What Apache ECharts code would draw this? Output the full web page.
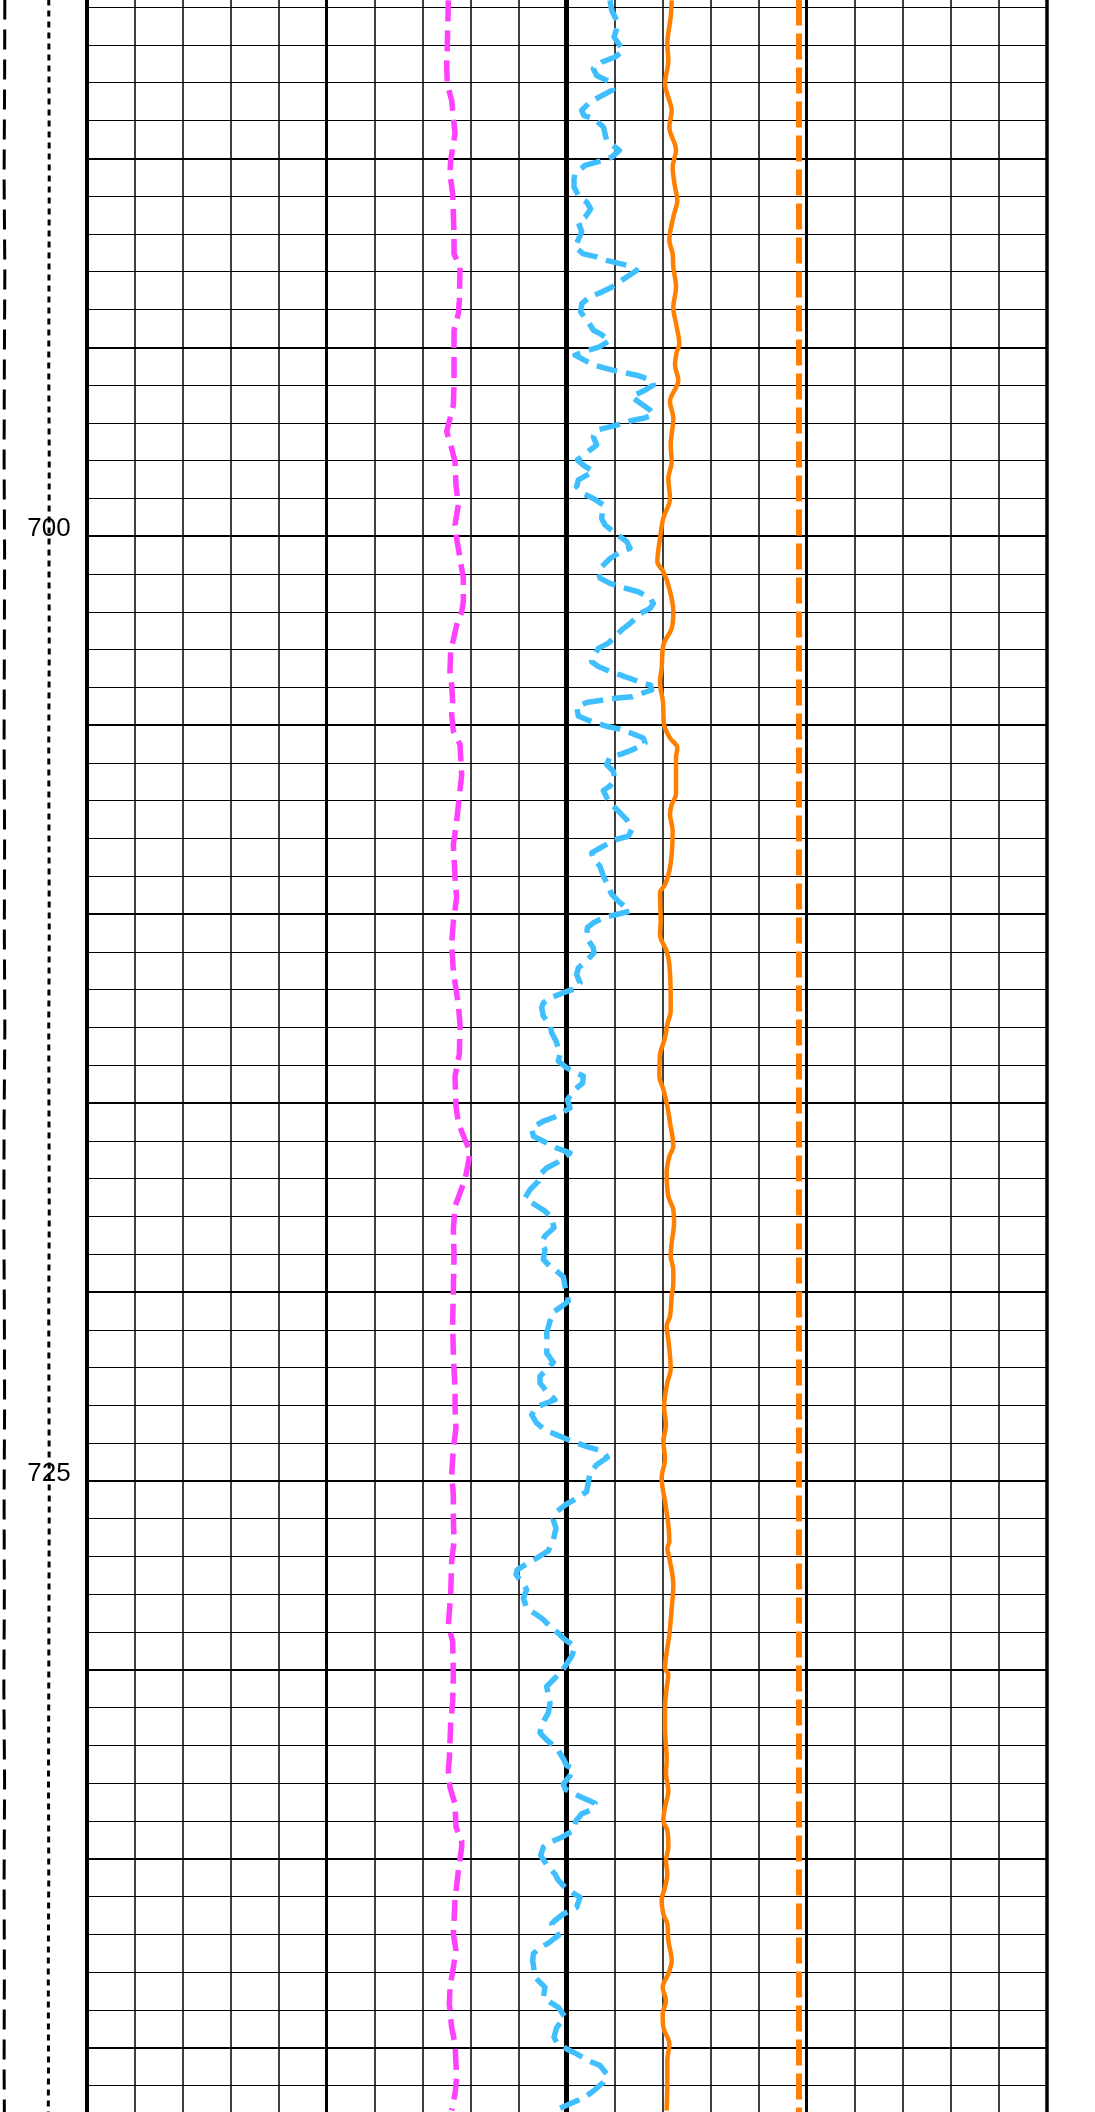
<!DOCTYPE html>
<html>
<head>
<meta charset="utf-8">
<script src="https://cdn.jsdelivr.net/npm/echarts@6/dist/echarts.min.js"></script>
<style>
html, body { margin: 0; padding: 0; background: #ffffff; }
#chart { width: 1095px; height: 2112px; }
</style>
</head>
<body>
<div id="chart"></div>
<script>
// ---------------- data ----------------
const depthMin = 685;
const depthMax = 745;
const depthLabels = [700, 725];
const trackMin = 0;
const trackMax = 20;
const leftTrackMin = -1.8056;   // value shown at the left page edge (black reference curves)

const blackDashDepth = [685.8, 688, 690.5, 693, 695.5, 698, 700.5, 703, 705.5, 708, 710.5, 713, 715.5, 718, 720.5, 723, 725.5, 728, 730.5, 733, 735.5, 738, 740.5, 741.7];
const blackDashValue = [-1.705, -1.71, -1.72, -1.705, -1.715, -1.72, -1.71, -1.715, -1.72, -1.71, -1.715, -1.705, -1.72, -1.725, -1.715, -1.71, -1.72, -1.715, -1.725, -1.71, -1.72, -1.715, -1.72, -1.715];

const blackDotDepth = [685.8, 688, 690.5, 693, 695.5, 698, 700.5, 703, 705.5, 708, 710.5, 713, 715.5, 718, 720.5, 723, 725.5, 728, 730.5, 733, 735.5, 738, 740.5, 741.7];
const blackDotValue = [-0.79, -0.785, -0.78, -0.785, -0.79, -0.78, -0.785, -0.78, -0.79, -0.785, -0.78, -0.79, -0.785, -0.78, -0.79, -0.785, -0.78, -0.785, -0.79, -0.795, -0.79, -0.8, -0.795, -0.8];

const magentaDepth = [685.82, 686.97, 687.59, 688.03, 688.47, 689.35, 690.06, 690.41, 690.94, 692.0, 692.53, 692.88, 693.76, 694.11, 694.55, 695.1, 696.0, 696.53, 697.06, 697.23, 697.68, 698.03, 698.65, 699.17, 699.70, 700.06, 700.59, 701.11, 701.73, 702.0, 702.35, 703.05, 703.58, 703.94, 704.38, 704.72, 705.16, 705.51, 706.31, 707.54, 708.16, 709.04, 709.57, 710.19, 710.80, 711.51, 712.39, 712.92, 713.71, 714.29, 715.08, 715.53, 715.97, 716.28, 716.59, 717.02, 717.73, 718.35, 719.05, 719.93, 720.82, 721.70, 722.58, 723.05, 723.60, 724.13, 724.84, 725.37, 725.98, 726.60, 727.13, 728.01, 728.81, 729.25, 730.13, 730.84, 731.46, 732.34, 732.66, 733.11, 733.55, 734.16, 734.52, 734.69, 735.31, 736.10, 736.99, 737.43, 737.87, 738.40, 738.84, 739.46, 739.90, 740.78, 741.22, 741.66];
const magentaValue = [7.535, 7.514, 7.5, 7.514, 7.604, 7.674, 7.583, 7.569, 7.625, 7.653, 7.653, 7.778, 7.764, 7.743, 7.653, 7.653, 7.653, 7.639, 7.535, 7.5, 7.604, 7.674, 7.694, 7.743, 7.674, 7.708, 7.778, 7.847, 7.847, 7.813, 7.708, 7.583, 7.569, 7.604, 7.625, 7.604, 7.639, 7.778, 7.813, 7.708, 7.639, 7.674, 7.708, 7.639, 7.604, 7.639, 7.743, 7.778, 7.764, 7.674, 7.694, 7.743, 7.882, 7.986, 7.951, 7.882, 7.674, 7.639, 7.653, 7.639, 7.625, 7.639, 7.674, 7.674, 7.694, 7.639, 7.604, 7.639, 7.639, 7.653, 7.604, 7.583, 7.535, 7.625, 7.639, 7.625, 7.583, 7.556, 7.535, 7.569, 7.674, 7.694, 7.813, 7.813, 7.743, 7.674, 7.639, 7.694, 7.639, 7.569, 7.556, 7.604, 7.674, 7.708, 7.674, 7.604];

const blueDepth = [685.82, 686.09, 686.44, 686.79, 687.15, 687.32, 687.46, 687.63, 687.81, 687.98, 688.19, 688.51, 688.73, 688.87, 688.95, 689.17, 689.35, 689.53, 689.79, 689.97, 690.10, 690.19, 690.41, 690.54, 690.76, 691.03, 691.16, 691.34, 691.56, 691.69, 691.95, 692.35, 692.53, 692.61, 692.70, 692.83, 692.97, 693.23, 693.41, 693.54, 693.67, 693.85, 694.07, 694.33, 694.55, 694.64, 694.82, 694.99, 695.14,
  695.21, 695.47, 695.60, 695.74, 695.87, 696.00, 696.11, 696.31, 696.44, 696.66, 696.79, 696.88, 696.93, 697.06, 697.19, 697.37, 697.59, 697.72, 697.90, 697.98, 698.12, 698.29, 698.51, 698.69, 698.87, 699.00, 699.17, 699.53, 699.70, 699.88, 700.14, 700.32, 700.45, 700.59, 700.81, 700.94, 701.11, 701.25, 701.34, 701.47, 701.64, 701.78, 701.91, 702.04, 702.31, 702.48, 702.83, 702.97, 703.19, 703.32, 703.45, 703.58, 703.67, 703.89, 703.94, 704.07, 704.25, 704.29, 704.40,
  704.52, 704.76, 704.89, 705.03, 705.11, 705.20, 705.34, 705.47, 705.64, 705.76, 705.85, 706.04, 706.22, 706.44, 706.61, 706.73, 707.01, 707.23, 707.50, 707.76, 707.94, 708.02, 708.20, 708.38, 708.55, 708.73, 708.99, 709.26, 709.48, 709.66, 709.92, 710.01, 710.10, 710.23, 710.36, 710.63, 710.89, 711.02, 711.24, 711.42, 711.60, 711.82, 711.99, 712.08, 712.22, 712.35, 712.48, 712.70, 712.92, 713.14, 713.36, 713.54, 713.71,
  713.89, 714.07, 714.20, 714.29, 714.47, 714.64, 714.91, 715.13, 715.35, 715.48, 715.66, 715.88, 716.01, 716.19, 716.32, 716.57, 716.72, 716.89, 717.07, 717.29, 717.51, 717.69, 717.86, 718.04, 718.30, 718.51, 718.70, 718.88, 719.14, 719.32, 719.41, 719.60, 719.85, 720.24, 720.38, 720.53, 720.77, 721.08, 721.35, 721.61, 721.74, 721.86, 722.10, 722.23, 722.41, 722.63, 722.85, 723.04,
  723.25, 723.47, 723.65, 723.78, 723.91, 724.09, 724.22, 724.38, 724.57, 724.79, 725.28, 725.46, 725.61, 725.81, 726.03, 726.25, 726.56, 726.85, 727.04, 727.22, 727.35, 727.48, 727.75, 727.88, 728.10, 728.37, 728.54, 728.67, 728.85, 729.03, 729.20, 729.38, 729.64, 729.91, 730.08, 730.26, 730.44, 730.66, 730.88, 731.14, 731.45, 731.67, 731.85, 732.07, 732.35,
  732.53, 732.62, 732.80, 733.02, 733.15, 733.33, 733.53, 733.72, 733.81, 733.99, 734.25, 734.43, 734.56, 734.69, 734.91, 735.22, 735.40, 735.57, 735.80, 736.02, 736.28, 736.46, 736.63, 736.72, 737.03, 737.23, 737.38, 737.51, 737.69, 738.13, 738.40, 738.66, 738.79, 738.93, 739.19, 739.46, 739.72, 739.85, 740.03, 740.16, 740.34, 740.47, 740.69, 740.91, 741.13, 741.31, 741.48, 741.68];
const blueValue = [10.903, 10.938, 11.076, 10.986, 11.181, 11.007, 10.729, 10.556, 10.625, 10.903, 10.958, 10.486, 10.313, 10.361, 10.569, 10.764, 10.799, 10.833, 11.097, 10.938, 10.625, 10.382, 10.174, 10.153, 10.153, 10.264, 10.417, 10.5, 10.382, 10.243, 10.313, 10.174, 10.347, 10.625, 10.833, 11.25, 11.458, 11.146, 10.938, 10.729, 10.472, 10.313, 10.292, 10.451, 10.556, 10.694, 10.903, 10.681, 10.313,
  10.174, 10.556, 10.938, 11.458, 11.771, 11.806, 11.667, 11.354, 11.493, 11.736, 11.806, 11.597, 11.389, 11.042, 10.625, 10.556, 10.625, 10.486, 10.313, 10.222, 10.347, 10.556, 10.243, 10.208, 10.347, 10.556, 10.764, 10.729, 10.799, 10.972, 11.25, 11.319, 11.076, 10.903, 10.729, 10.66, 10.694, 10.903, 11.111, 11.493, 11.736, 11.806, 11.736, 11.542, 11.319, 11.146, 10.868, 10.66, 10.556, 10.521, 10.66, 10.903, 11.111, 11.597, 11.75, 11.771, 11.354, 11.007, 10.417,
  10.208, 10.243, 10.486, 10.833, 11.111, 11.319, 11.597, 11.632, 11.389, 11.146, 10.903, 10.833, 10.972, 11.007, 10.903, 10.764, 10.868, 11.042, 11.25, 11.354, 11.285, 11.042, 10.764, 10.521, 10.556, 10.694, 10.764, 10.868, 10.938, 11.076, 11.319, 11.042, 10.764, 10.556, 10.431, 10.417, 10.556, 10.569, 10.417, 10.243, 10.208, 10.278, 10.139, 9.931, 9.653, 9.514, 9.479, 9.514, 9.653, 9.688, 9.778, 9.826, 9.861,
  9.826, 10.0, 10.208, 10.347, 10.333, 10.174, 10.014, 10.069, 9.792, 9.514, 9.271, 9.306, 9.514, 9.792, 10.069, 9.806, 9.583, 9.444, 9.410, 9.236, 9.132, 9.340, 9.549, 9.688, 9.736, 9.549, 9.479, 9.549, 9.514, 9.653, 9.757, 9.931, 9.965, 10.035, 9.896, 9.722, 9.653, 9.583, 9.597, 9.583, 9.653, 9.722, 9.549, 9.444, 9.444, 9.583, 9.757, 9.375,
  9.271, 9.375, 9.549, 9.792, 10.035, 10.417, 10.764, 10.847, 10.625, 10.486, 10.417, 10.208, 10.0, 9.792, 9.722, 9.778, 9.722, 9.618, 9.375, 9.132, 8.972, 8.944, 9.111, 9.167, 9.097, 9.167, 9.375, 9.514, 9.653, 9.826, 9.965, 10.174, 10.104, 9.965, 9.861, 9.722, 9.583, 9.618, 9.653, 9.618, 9.479, 9.444, 9.583, 9.792, 9.931,
  10.0, 10.139, 10.069, 9.931, 9.965, 10.243, 10.590, 10.486, 10.313, 10.194, 10.139, 9.896, 9.653, 9.514, 9.458, 9.618, 9.757, 9.826, 10.0, 10.278, 10.208, 9.931, 9.757, 9.688, 9.826, 9.618, 9.410, 9.306, 9.292, 9.340, 9.549, 9.514, 9.653, 9.826, 9.965, 9.792, 9.736, 9.792, 10.0, 10.208, 10.451, 10.694, 10.833, 10.764, 10.569, 10.382, 10.069, 9.722];

const orangeDepth = [685.82, 686.26, 686.97, 687.41, 688.03, 688.47, 688.73, 689.17, 689.79, 690.23, 690.76, 691.11, 691.55, 692.17, 692.53, 692.88, 693.41, 693.94, 694.46, 694.91, 695.13, 695.47, 695.87, 696.44, 696.88, 697.59, 698.03, 698.47, 699.0, 699.52, 700.06, 700.67, 700.94, 701.29, 702.0, 702.44, 702.88, 703.50, 703.85, 704.4, 704.98, 705.34, 705.60, 705.86, 706.83, 707.10, 707.36, 707.80, 708.42, 708.86, 709.22, 709.44, 710.19, 710.54, 710.98, 711.33, 712.13, 712.57, 712.92, 713.27, 713.73, 714.29, 714.64, 715.08, 715.53, 716.14, 716.41, 716.85, 717.47, 717.82, 718.17, 718.70, 719.05, 719.41, 719.76, 720.11, 720.64, 720.90, 721.26, 721.70, 722.05, 722.40, 723.04, 723.51, 723.96, 724.40, 724.93, 725.54, 726.16, 726.60, 726.78, 727.04, 727.75, 728.37, 729.07, 729.42, 729.95, 730.13, 730.48, 731.01, 731.54, 732.37, 732.75, 733.19, 733.63, 733.99, 734.25, 734.69, 735.05, 735.40, 735.75, 736.10, 736.46, 736.72, 737.16, 737.69, 738.04, 738.40, 738.75, 739.10, 739.46, 739.90, 740.34, 740.87, 741.66];
const orangeValue = [12.188, 12.167, 12.097, 12.118, 12.049, 12.139, 12.188, 12.139, 12.278, 12.208, 12.257, 12.306, 12.222, 12.139, 12.208, 12.222, 12.278, 12.222, 12.292, 12.347, 12.292, 12.257, 12.326, 12.153, 12.222, 12.167, 12.188, 12.118, 12.153, 12.014, 11.944, 11.889, 12.014, 12.118, 12.222, 12.188, 12.014, 11.979, 11.944, 12.007, 12.028, 12.153, 12.306, 12.278, 12.278, 12.188, 12.153, 12.208, 12.188, 12.139, 12.049, 11.944, 11.958, 11.944, 12.083, 12.139, 12.167, 12.167, 12.097, 12.049, 11.944, 11.931, 12.014, 12.097, 12.153, 12.222, 12.139, 12.083, 12.118, 12.222, 12.236, 12.188, 12.167, 12.222, 12.222, 12.188, 12.153, 12.083, 12.118, 12.153, 12.167, 12.097, 12.03, 12.069, 12.014, 12.049, 11.979, 12.049, 12.118, 12.139, 12.097, 12.139, 12.222, 12.188, 12.139, 12.097, 12.049, 12.118, 12.083, 12.049, 12.049, 12.083, 12.069, 12.118, 12.049, 12.014, 12.097, 12.118, 12.069, 12.097, 12.049, 11.979, 12.014, 12.097, 12.118, 12.188, 12.118, 12.0, 12.069, 12.0, 12.014, 12.139, 12.097, 12.097, 12.083];

const orangeDashDepth = [685.8, 700, 715, 730, 741.7];
const orangeDashValue = [14.84, 14.84, 14.84, 14.84, 14.84];

// ---------------- chart ----------------
function pairs(values, depths) {
  const n = Math.min(values.length, depths.length);
  const out = [];
  for (let i = 0; i < n; i++) out.push([values[i], depths[i]]);
  return out;
}

const chart = echarts.init(document.getElementById('chart'), null, { renderer: 'canvas' });

function curve(name, values, depths, color, width, type, xIdx, yIdx, smooth) {
  return {
    name: name,
    type: 'line',
    xAxisIndex: xIdx,
    yAxisIndex: yIdx,
    data: pairs(values, depths),
    showSymbol: false,
    symbol: 'none',
    smooth: smooth || false,
    clip: false,
    animation: false,
    z: 5,
    lineStyle: { color: color, width: width, type: type, cap: 'butt', join: 'round' }
  };
}

const hiddenX = {
  type: 'value', min: trackMin, max: trackMax, position: 'top', gridIndex: 0,
  axisLine: { show: false }, axisTick: { show: false }, axisLabel: { show: false }
};

const gridTop = -30.65, gridBottom = -124.75, gridLeft = 86.67;

const option = {
  backgroundColor: '#ffffff',
  animation: false,
  grid: [
    { left: gridLeft, right: 48.33, top: gridTop, bottom: gridBottom, containLabel: false, outerBoundsMode: 'none' },
    { left: 0, right: 1095 - gridLeft, top: gridTop, bottom: gridBottom, containLabel: false, outerBoundsMode: 'none' }
  ],
  xAxis: [
    Object.assign({}, hiddenX, { interval: 1, splitLine: { show: true, lineStyle: { color: '#000', width: 1.5 } } }),
    Object.assign({}, hiddenX, { interval: 5, splitLine: { show: true, showMinLine: false, showMaxLine: false, lineStyle: { color: '#000', width: 3 } } }),
    Object.assign({}, hiddenX, { interval: 10, splitLine: { show: true, showMinLine: false, showMaxLine: false, lineStyle: { color: '#000', width: 5 } } }),
    { type: 'value', gridIndex: 1, min: leftTrackMin, max: 0, show: false, splitLine: { show: false } }
  ],
  yAxis: [
    {
      type: 'value', gridIndex: 0, inverse: true, min: depthMin, max: depthMax, interval: 1, position: 'left',
      axisLine: { show: true, onZero: false, lineStyle: { color: '#000', width: 4 } },
      axisTick: { show: false },
      axisLabel: {
        show: true, margin: 16, color: '#000', fontSize: 26, fontFamily: 'Liberation Sans, Arial, sans-serif',
        verticalAlign: 'bottom', lineHeight: 15,
        formatter: function (v) { return depthLabels.indexOf(Math.round(v)) >= 0 ? String(Math.round(v)) : ''; }
      },
      splitLine: { show: true, lineStyle: { color: '#000', width: 1 } }
    },
    {
      type: 'value', gridIndex: 0, inverse: true, min: depthMin, max: depthMax, interval: 5, position: 'right',
      axisLine: { show: true, onZero: false, lineStyle: { color: '#000', width: 3.5 } },
      axisTick: { show: false }, axisLabel: { show: false },
      splitLine: { show: true, lineStyle: { color: '#000', width: 2 } }
    },
    { type: 'value', gridIndex: 1, inverse: true, min: depthMin, max: depthMax, show: false, splitLine: { show: false } }
  ],
  series: [
    curve('black dashed', blackDashValue, blackDashDepth, '#000000', 3, [20, 10], 3, 2),
    curve('black dotted', blackDotValue, blackDotDepth, '#000000', 3, [6, 5], 3, 2),
    curve('magenta', magentaValue, magentaDepth, '#ff40ff', 5.5, [21, 9], 0, 0),
    curve('blue', blueValue, blueDepth, '#40bfff', 5.5, [21, 9], 0, 0),
    curve('orange', orangeValue, orangeDepth, '#ff8000', 4.5, 'solid', 0, 0, 0.35),
    curve('orange dashed', orangeDashValue, orangeDashDepth, '#ff8000', 6, [26, 8], 0, 0)
  ]
};

chart.setOption(option);
</script>
</body>
</html>
